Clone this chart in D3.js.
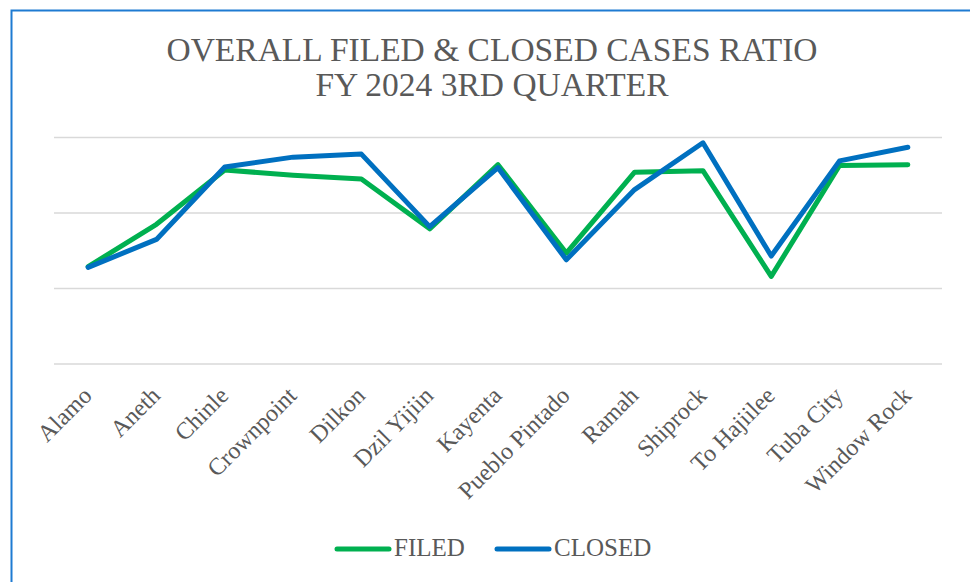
<!DOCTYPE html>
<html>
<head>
<meta charset="utf-8">
<script src="https://cdn.jsdelivr.net/npm/d3@7"></script>
<style>
  body { margin: 0; background: #fff; }
  svg { display: block; font-family: "Liberation Serif", "Times New Roman", serif; }
</style>
</head>
<body>
<svg id="chart" width="970" height="582"></svg>
<script>
const offices = ["Alamo", "Aneth", "Chinle", "Crownpoint", "Dilkon", "Dzil Yijiin", "Kayenta",
    "Pueblo Pintado", "Ramah", "Shiprock", "To Hajiilee", "Tuba City", "Window Rock"];
const filed = [12.9, 18.5, 25.7, 25.0, 24.5, 17.9, 26.4, 14.7, 25.4, 25.6, 11.6, 26.3, 26.4];
const closed = [12.8, 16.5, 26.1, 27.4, 27.8, 18.2, 26.0, 13.8, 23.1, 29.3, 14.3, 26.9, 28.7];
const yTicks = [0, 10, 20, 30];
const titleLines = ["OVERALL FILED & CLOSED CASES RATIO", "FY 2024 3RD QUARTER"];

const colors = { filed: "#00b050", closed: "#0070c0", grid: "#d9d9d9", text: "#595959", border: "#1e7bd2" };

const svg = d3.select("#chart");

// frame of the chart area
svg.append("rect")
    .attr("x", 11.5).attr("y", 10.5)
    .attr("width", 1000).attr("height", 600)
    .attr("fill", "none")
    .attr("stroke", colors.border)
    .attr("stroke-width", 2);

svg.append("g")
    .selectAll("text")
    .data(titleLines)
    .join("text")
    .attr("x", 492)
    .attr("y", (d, i) => 61 + i * 35)
    .attr("text-anchor", "middle")
    .attr("font-size", 33.5)
    .attr("fill", colors.text)
    .text((d) => d);

const x = d3.scalePoint().domain(offices).range([54, 942]).padding(0.5);
const y = d3.scaleLinear().domain([0, 30]).range([364, 137.5]);

svg.append("g")
    .selectAll("line")
    .data(yTicks)
    .join("line")
    .attr("x1", 54).attr("x2", 942)
    .attr("y1", (d) => y(d)).attr("y2", (d) => y(d))
    .attr("stroke", colors.grid)
    .attr("stroke-width", 1.4);

svg.append("g")
    .selectAll("text")
    .data(offices)
    .join("text")
    .attr("transform", (d) => `translate(${x(d) + 5},397) rotate(-45)`)
    .attr("text-anchor", "end")
    .attr("font-size", 24)
    .attr("fill", colors.text)
    .text((d) => d);

const line = d3.line()
    .x((d, i) => x(offices[i]))
    .y((d) => y(d));

[[filed, colors.filed], [closed, colors.closed]].forEach(([vals, col]) => {
    svg.append("path")
        .datum(vals)
        .attr("d", line)
        .attr("fill", "none")
        .attr("stroke", col)
        .attr("stroke-width", 5)
        .attr("stroke-linejoin", "round")
        .attr("stroke-linecap", "round");
});

const legend = [
    { label: "FILED", color: colors.filed, x: 335 },
    { label: "CLOSED", color: colors.closed, x: 495 },
];
const lg = svg.append("g");
legend.forEach((l) => {
    lg.append("line")
        .attr("x1", l.x + 2).attr("x2", l.x + 54)
        .attr("y1", 549).attr("y2", 549)
        .attr("stroke", l.color)
        .attr("stroke-width", 5)
        .attr("stroke-linecap", "round");
    lg.append("text")
        .attr("x", l.x + 59)
        .attr("y", 556)
        .attr("font-size", 25)
        .attr("fill", colors.text)
        .text(l.label);
});
</script>
</body>
</html>
